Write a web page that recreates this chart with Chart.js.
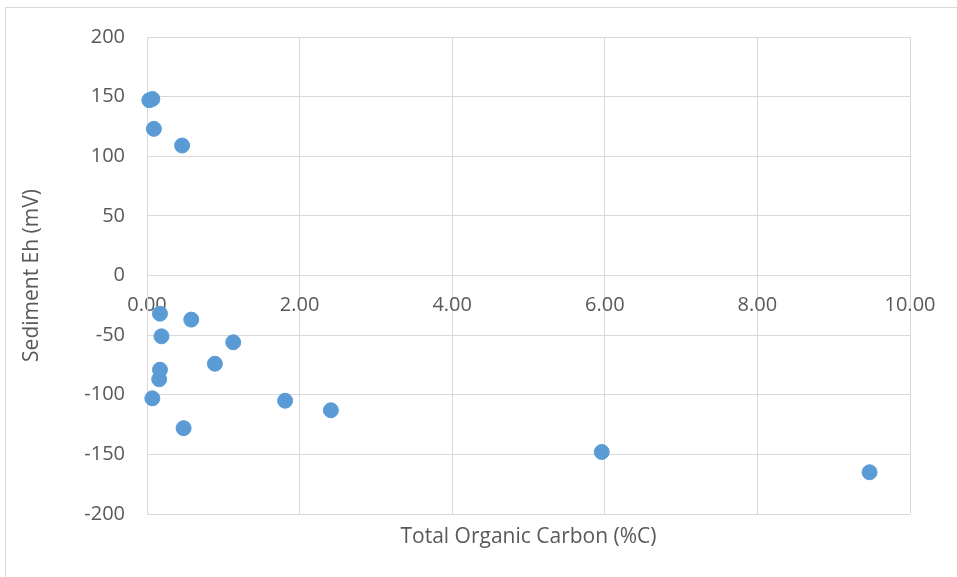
<!DOCTYPE html>
<html>
<head>
<meta charset="utf-8">
<script src="https://cdn.jsdelivr.net/npm/chart.js@4"></script>
<style>
  html, body { margin: 0; padding: 0; background: #fff; overflow: hidden; }
  #wrap { position: relative; width: 957px; height: 577px; }
  #frame { position: absolute; left: 5px; top: 7px; width: 1000px; height: 1000px; border: 1px solid #d9d9d9; box-sizing: border-box; }
  canvas { position: absolute; left: 0; top: 0; }
</style>
</head>
<body>
<div id="wrap">
  <div id="frame"></div>
  <canvas id="grafico" width="957" height="577"></canvas>
</div>
<script>
// ===== DADOS =====
const tocValues = [0.03, 0.07, 0.09, 0.46, 0.17, 0.58, 0.19, 1.13, 0.89, 0.17, 0.16, 0.07, 0.48, 1.81, 2.41, 5.96, 9.47];
const ehValues  = [147, 148, 123, 109, -32, -37, -51, -56, -74, -79, -87, -103, -128, -105, -113, -148, -165];
const xTicks = [0, 2, 4, 6, 8, 10];
const yTicks = [-200, -150, -100, -50, 0, 50, 100, 150, 200];

const xTitle = 'Total Organic Carbon (%C)';
const yTitle = 'Sediment Eh (mV)';

const pontos = tocValues.map((x, i) => ({ x: x, y: ehValues[i] }));
const fonte = "'Open Sans', 'Liberation Sans', sans-serif";
const corTexto = '#595959';
const corGrade = '#d9d9d9';

// título do eixo X desenhado embaixo do gráfico
const tituloX = {
  id: 'tituloX',
  afterDraw(chart) {
    const { ctx, chartArea } = chart;
    ctx.save();
    ctx.font = '21px ' + fonte;
    ctx.fillStyle = corTexto;
    ctx.textAlign = 'center';
    ctx.textBaseline = 'middle';
    ctx.fillText(xTitle, (chartArea.left + chartArea.right) / 2, 537);
    ctx.restore();
  }
};

new Chart(document.getElementById('grafico'), {
  type: 'scatter',
  data: {
    datasets: [{
      data: pontos,
      backgroundColor: '#5b9bd5',
      borderColor: '#5b9bd5',
      pointRadius: 7.5,
      pointHoverRadius: 7.5,
      clip: false
    }]
  },
  options: {
    responsive: false,
    animation: false,
    layout: { padding: { left: 0, right: 47, top: 37, bottom: 63 } },
    plugins: {
      legend: { display: false },
      tooltip: { enabled: false },
      title: { display: false }
    },
    scales: {
      x: {
        type: 'linear',
        position: { y: 0 },
        min: 0, max: 10,
        afterBuildTicks: s => { s.ticks = xTicks.map(v => ({ value: v })); },
        ticks: {
          color: corTexto,
          font: { family: fonte, size: 20 },
          padding: 18,
          maxRotation: 0,
          callback: v => v.toFixed(2)
        },
        grid: { color: corGrade, drawTicks: false },
        border: { color: corGrade }
      },
      y: {
        type: 'linear',
        min: -200, max: 200,
        afterBuildTicks: s => { s.ticks = yTicks.map(v => ({ value: v })); },
        afterFit: s => { s.width = 147; },
        ticks: {
          color: corTexto,
          font: { family: fonte, size: 20 },
          padding: 22
        },
        grid: { color: corGrade, drawTicks: false },
        border: { color: corGrade }
        ,
        title: {
          display: true,
          text: yTitle,
          color: corTexto,
          font: { family: fonte, size: 21 },
          padding: { top: 19, bottom: 0 }
        }
      }
    }
  },
  plugins: [tituloX]
});
</script>
</body>
</html>
